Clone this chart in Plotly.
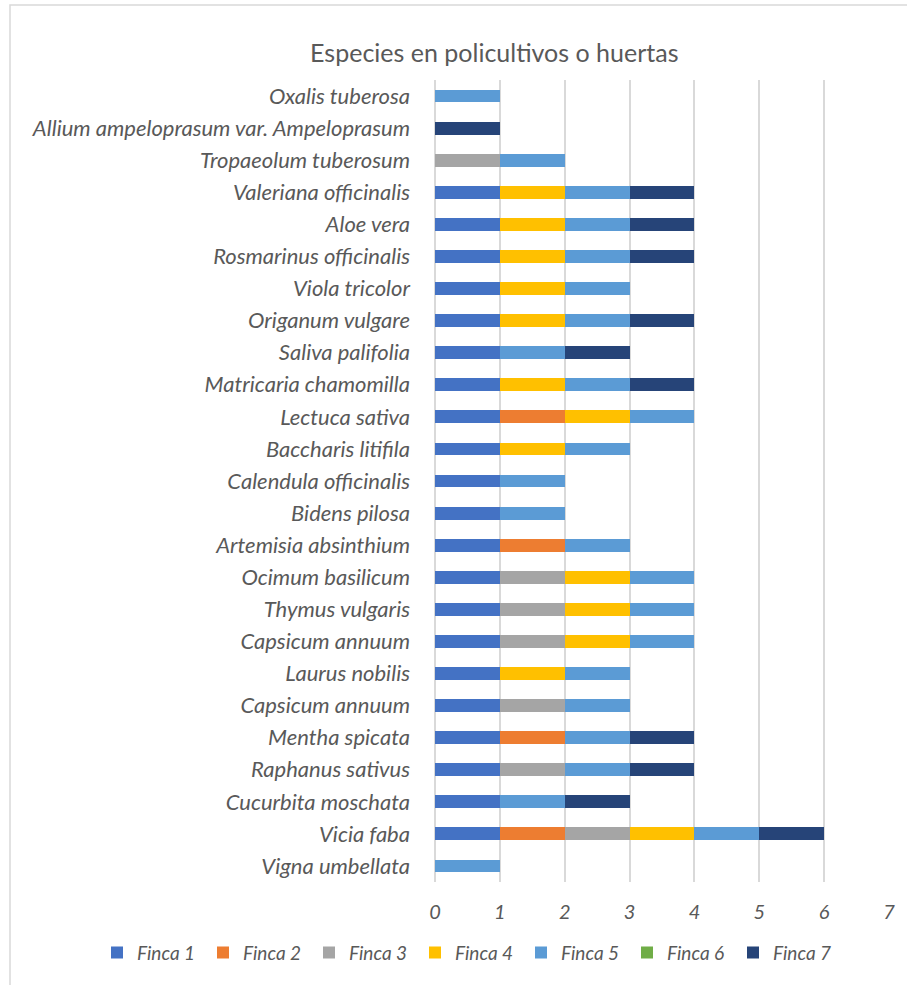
import plotly.graph_objects as go

species = [
    "Vigna umbellata", "Vicia faba", "Cucurbita moschata", "Raphanus sativus",
    "Mentha spicata", "Capsicum annuum", "Laurus nobilis", "Capsicum annuum",
    "Thymus vulgaris", "Ocimum basilicum", "Artemisia absinthium", "Bidens pilosa",
    "Calendula officinalis", "Baccharis litifila", "Lectuca sativa",
    "Matricaria chamomilla", "Saliva palifolia", "Origanum vulgare",
    "Viola tricolor", "Rosmarinus officinalis", "Aloe vera",
    "Valeriana officinalis", "Tropaeolum tuberosum",
    "Allium ampeloprasum var. Ampeloprasum", "Oxalis tuberosa",
]

finca1 = [0,1,1,1,1,1,1,1,1,1,1,1,1,1,1,1,1,1,1,1,1,1,0,0,0]
finca2 = [0,1,0,0,1,0,0,0,0,0,1,0,0,0,1,0,0,0,0,0,0,0,0,0,0]
finca3 = [0,1,0,1,0,1,0,1,1,1,0,0,0,0,0,0,0,0,0,0,0,0,1,0,0]
finca4 = [0,1,0,0,0,0,1,1,1,1,0,0,0,1,1,1,0,1,1,1,1,1,0,0,0]
finca5 = [1,1,1,1,1,1,1,1,1,1,1,1,1,1,1,1,1,1,1,1,1,1,1,0,1]
finca6 = [0,0,0,0,0,0,0,0,0,0,0,0,0,0,0,0,0,0,0,0,0,0,0,0,0]
finca7 = [0,1,1,1,1,0,0,0,0,0,0,0,0,0,0,1,1,1,0,1,1,1,0,1,0]

series_names = ["Finca 1", "Finca 2", "Finca 3", "Finca 4", "Finca 5", "Finca 6", "Finca 7"]
series_values = [finca1, finca2, finca3, finca4, finca5, finca6, finca7]
colors = ["#4472C4", "#ED7D31", "#A5A5A5", "#FFC000", "#5B9BD5", "#70AD47", "#264478"]

x_ticks = [0, 1, 2, 3, 4, 5, 6, 7]

positions = list(range(len(species)))
font_family = "Lato, 'Open Sans', sans-serif"
grey = "#595959"

fig = go.Figure()
for name, vals, col in zip(series_names, series_values, colors):
    fig.add_trace(go.Bar(
        x=vals, y=positions, orientation="h", name=f"<i>{name}</i>",
        marker=dict(color=col, line=dict(width=0)),
    ))

fig.update_layout(
    barmode="stack",
    bargap=0.6,
    width=907, height=985,
    margin=dict(l=435, r=18, t=80, b=103),
    paper_bgcolor="white",
    plot_bgcolor="white",
    title=dict(
        text="Especies en policultivos o huertas",
        x=0.545, xanchor="center", y=0.946, yanchor="middle",
        font=dict(family=font_family, size=25, color=grey),
    ),
    font=dict(family=font_family, color=grey),
    xaxis=dict(
        range=[0, 7], tickvals=x_ticks, ticktext=[f"<i>{t}</i>" for t in x_ticks],
        showgrid=True, gridcolor="#D9D9D9", gridwidth=2,
        zeroline=True, zerolinecolor="#D9D9D9", zerolinewidth=2,
        showline=False, ticks="", tickfont=dict(size=20, color=grey),
        ticklabelstandoff=16, automargin=False,
    ),
    yaxis=dict(
        range=[-0.5, 24.5], tickvals=positions,
        ticktext=[f"<i>{s}</i>" for s in species],
        showgrid=False, zeroline=False, showline=False, ticks="",
        tickfont=dict(size=22, color=grey), ticklabelstandoff=24,
        automargin=False,
    ),
    legend=dict(
        orientation="h", x=(97 - 435) / 454, xanchor="left",
        y=-0.088, yanchor="middle",
        font=dict(size=19, color=grey, family=font_family),
        traceorder="normal", itemsizing="constant",
        entrywidth=61, entrywidthmode="pixels",
    ),
    showlegend=True,
)

fig.add_shape(
    type="rect", xref="paper", yref="paper",
    x0=(10 - 435) / 454, x1=(930 - 435) / 454,
    y0=-(140 / 802), y1=1 + 75 / 802,
    line=dict(color="#D9D9D9", width=1.5), fillcolor="rgba(0,0,0,0)", layer="below",
)

fig.write_html("out.html")
